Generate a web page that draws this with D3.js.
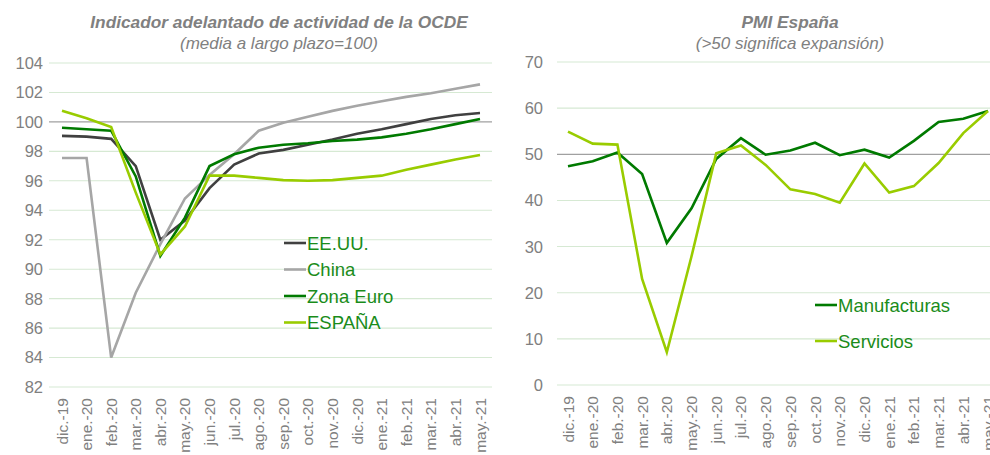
<!DOCTYPE html>
<html lang="es">
<head>
<meta charset="UTF-8">
<script src="https://d3js.org/d3.v7.min.js"></script>
<style>
  body { margin: 0; background: #fff; }
  svg { display: block; font-family: "Liberation Sans", Arial, sans-serif; }
</style>
</head>
<body>
<svg id="chart" width="990" height="455"></svg>
<script>
// months on the x axis (shared by both panels)
const months = ["dic.-19","ene.-20","feb.-20","mar.-20","abr.-20","may.-20","jun.-20","jul.-20","ago.-20","sep.-20","oct.-20","nov.-20","dic.-20","ene.-21","feb.-21","mar.-21","abr.-21","may.-21"];

// left panel: OECD leading indicator
const eeuu     = [99.05, 99.0, 98.85, 97.0, 92.0, 93.3, 95.5, 97.1, 97.85, 98.1, 98.45, 98.8, 99.2, 99.5, 99.85, 100.2, 100.45, 100.6];
const china    = [97.55, 97.55, 84.0, 88.4, 91.7, 94.8, 96.4, 97.8, 99.4, 99.95, 100.35, 100.75, 101.1, 101.4, 101.7, 101.95, 102.25, 102.55];
const zonaEuro = [99.6, 99.5, 99.4, 96.3, 90.9, 93.5, 97.0, 97.8, 98.25, 98.45, 98.55, 98.7, 98.8, 98.95, 99.2, 99.5, 99.85, 100.2];
const espana   = [100.75, 100.25, 99.65, 95.2, 91.0, 92.9, 96.35, 96.35, 96.2, 96.05, 96.0, 96.05, 96.2, 96.35, 96.75, 97.1, 97.45, 97.75];
const leftTicks = [82, 84, 86, 88, 90, 92, 94, 96, 98, 100, 102, 104];

// right panel: PMI Spain
const manufacturas = [47.4, 48.5, 50.4, 45.7, 30.8, 38.3, 49.0, 53.5, 49.9, 50.8, 52.5, 49.8, 51.0, 49.3, 52.9, 57.0, 57.7, 59.4];
const servicios    = [54.9, 52.3, 52.1, 23.0, 7.1, 27.9, 50.2, 51.9, 47.7, 42.4, 41.4, 39.5, 48.0, 41.7, 43.1, 48.1, 54.6, 59.4];
const rightTicks = [0, 10, 20, 30, 40, 50, 60, 70];

const svg = d3.select("#chart");
const gridColor = "#d6e9d3";
const textGray = "#808080";
const legendGreen = "#1a8c1a";

function panel(opt) {
  const g = svg.append("g");
  const x = d3.scalePoint().domain(months).range([opt.x0, opt.x1]);
  const y = d3.scaleLinear().domain(opt.domain).range([opt.yBottom, opt.yTop]);

  // gridlines
  g.selectAll(".grid").data(opt.ticks).enter().append("line")
    .attr("x1", opt.gx0).attr("x2", opt.gx1)
    .attr("y1", d => y(d)).attr("y2", d => y(d))
    .attr("stroke", d => d === opt.ref ? "#a0a0a0" : gridColor)
    .attr("stroke-width", d => d === opt.ref ? 1.3 : 1.1);

  // y labels
  g.selectAll(".yl").data(opt.ticks).enter().append("text")
    .attr("x", opt.labelX).attr("y", d => y(d)).attr("dy", "0.36em")
    .attr("text-anchor", "end").attr("fill", textGray).style("font-size", "16.5px")
    .text(d => d);

  // x labels rotated
  g.selectAll(".xl").data(months).enter().append("text")
    .attr("transform", d => "translate(" + (x(d) + 5.5) + "," + (opt.yBottom + 11) + ") rotate(-90)")
    .attr("text-anchor", "end").attr("fill", textGray).style("font-size", "15.5px")
    .text(d => d);

  const line = d3.line().x((d, i) => x(months[i])).y(d => y(d));
  opt.series.forEach(s => {
    g.append("path").datum(s.values)
      .attr("fill", "none").attr("stroke", s.color).attr("stroke-width", 2.6)
      .attr("stroke-linejoin", "miter").attr("d", line);
  });

  // legend
  opt.series.forEach((s, i) => {
    const ly = opt.legY + i * opt.legStep;
    g.append("line").attr("x1", opt.legX).attr("x2", opt.legX + 22)
      .attr("y1", ly).attr("y2", ly).attr("stroke", s.color).attr("stroke-width", 2.6);
    g.append("text").attr("x", opt.legX + 23).attr("y", ly).attr("dy", "0.36em")
      .attr("fill", legendGreen).style("font-size", "18.5px").text(s.name);
  });

  // titles
  g.append("text").attr("x", opt.titleX).attr("y", 28).attr("text-anchor", "middle")
    .attr("fill", textGray).style("font-size", "17.3px").style("font-weight", "bold").style("font-style", "italic")
    .text(opt.title);
  g.append("text").attr("x", opt.titleX).attr("y", 49).attr("text-anchor", "middle")
    .attr("fill", textGray).style("font-size", "17px").style("font-style", "italic")
    .text(opt.subtitle);
}

panel({
  x0: 62, x1: 480, gx0: 49, gx1: 492, labelX: 43, yTop: 63, yBottom: 387,
  domain: [82, 104], ticks: leftTicks, ref: 100,
  series: [
    { name: "EE.UU.", values: eeuu, color: "#404040" },
    { name: "China", values: china, color: "#a6a6a6" },
    { name: "Zona Euro", values: zonaEuro, color: "#007a00" },
    { name: "ESPAÑA", values: espana, color: "#99cc00" }
  ],
  legX: 284, legY: 243, legStep: 26.5,
  titleX: 279, title: "Indicador adelantado de actividad de la OCDE", subtitle: "(media a largo plazo=100)"
});

panel({
  x0: 568, x1: 988, gx0: 557, gx1: 990, labelX: 543, yTop: 62, yBottom: 385,
  domain: [0, 70], ticks: rightTicks, ref: 50,
  series: [
    { name: "Manufacturas", values: manufacturas, color: "#007a00" },
    { name: "Servicios", values: servicios, color: "#99cc00" }
  ],
  legX: 815, legY: 305, legStep: 36,
  titleX: 790, title: "PMI España", subtitle: "(>50 significa expansión)"
});
</script>
</body>
</html>
